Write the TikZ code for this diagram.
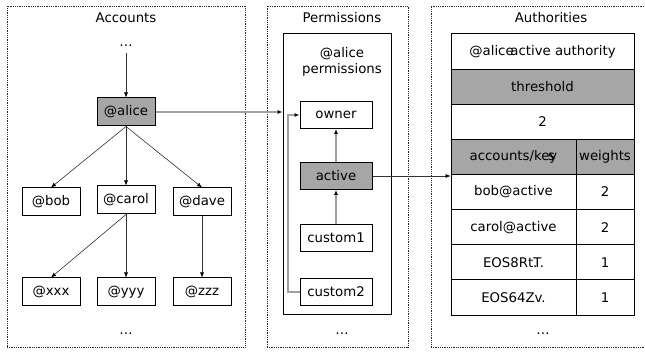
\documentclass[tikz,border=0pt]{standalone}
\usepackage{fontspec}
\setmainfont{DejaVu Sans}
\usetikzlibrary{arrows.meta}
\definecolor{boxgray}{RGB}{166,166,166}
\definecolor{linegray}{RGB}{160,160,160}
\begin{document}
\begin{tikzpicture}[x=1pt,y=-1pt,font=\fontsize{13.3}{15.5}\selectfont,
  frame/.style={draw=black!85,densely dotted,line width=0.8pt,inner sep=0pt},
  box/.style={draw,line width=1pt,minimum width=58pt,minimum height=28pt,inner sep=0pt,fill=white},
  pbox/.style={box,minimum width=72pt,minimum height=27pt},
  hl/.style={fill=boxgray},
  tip/.style={-{Latex[length=5pt,width=4pt,black]}},
  edge/.style={draw=black!80,line width=0.6pt,tip},
  gedge/.style={draw=linegray,line width=1.1pt,tip},
  cell/.style={draw,line width=1pt,minimum height=35.125pt,inner sep=0pt,fill=white},
  wide/.style={cell,minimum width=183pt},
  lcell/.style={cell,minimum width=125pt},
  rcell/.style={cell,minimum width=58pt}]
\useasboundingbox (0,0) rectangle (645,352);
\fill[white] (0,0) rectangle (645,352);
% frames
\node[frame,minimum width=238pt,minimum height=341pt] (accf) at (126,176.5) {};
\node[frame,minimum width=141pt,minimum height=341pt] (permf) at (337.5,176.5) {};
\node[frame,minimum width=224pt,minimum height=341pt] (authf) at (543,176.5) {};
% Accounts
\node (acct) at (126,18) {Accounts};
\node (accdots) at (126,46) {\dots};
\node[box,hl] (alice) at (126,112) {@alice};
\node[box] (bob) at (51,202) {@bob};
\node[box] (carol) at (126,200) {@carol};
\node[box] (dave) at (202,202) {@dave};
\node[box] (xxx) at (51,292) {@xxx};
\node[box] (yyy) at (126,292) {@yyy};
\node[box] (zzz) at (202,292) {@zzz};
\node (accdots2) at (126,334) {\dots};
\draw[edge] (accdots.south) ++(0,3) -- (alice.north);
\draw[edge] (alice.south) -- (bob.north);
\draw[edge] (alice.south) -- (carol.north);
\draw[edge] (alice.south) -- (dave.north);
\draw[edge] (carol.south) -- (xxx.north);
\draw[edge] (carol.south) -- (yyy.north);
\draw[edge] (dave.south) -- (zzz.north);
% Permissions
\node (permt) at (342,18) {Permissions};
\node[draw,line width=1pt,minimum width=108pt,minimum height=281pt,inner sep=0pt] (inner) at (337,174.5) {};
\node[align=center,inner sep=0pt] (ptitle) at (342,62) {@alice\\permissions};
\node[pbox] (owner) at (336,115) {owner};
\node[pbox,hl] (active) at (336,176) {active};
\node[pbox] (custom1) at (336,238) {custom1};
\node[pbox] (custom2) at (336,292) {custom2};
\node (permdots) at (342,334) {\dots};
\coordinate (c2a) at (288,292);
\coordinate (c2b) at (288,115);
\draw[gedge] (alice.east) -- (alice.east -| inner.west);
\draw[gedge] (custom1.north) -- (active.south);
\draw[gedge] (active.north) -- (owner.south);
\draw[gedge] (custom2.west) -- (c2a) -- (c2b) -- (owner.west);
% Authorities
\node (autht) at (551,18) {Authorities};
\node[wide] (r0) at (542.5,51.56) {@alice\kern-0.25em active authority};
\node[wide,hl] (r1) at (542.5,86.69) {threshold};
\node[wide] (r2) at (542.5,121.81) {2};
\node[lcell,hl] (h1) at (513.5,156.94) {accounts/ke\kern-0.1em\rlap{s}\kern0.1em y};
\node[rcell,hl] (h2) at (605,156.94) {weights};
\node[lcell] (a1) at (513.5,192.06) {bob@active};
\node[rcell] (w1) at (605,192.06) {2};
\node[lcell] (a2) at (513.5,227.19) {carol@active};
\node[rcell] (w2) at (605,227.19) {2};
\node[lcell] (a3) at (513.5,262.31) {EOS8Rt\rlap{.}T.};
\node[rcell] (w3) at (605,262.31) {1};
\node[lcell] (a4) at (513.5,297.44) {EOS64Zv.};
\node[rcell] (w4) at (605,297.44) {1};
\node (authdots) at (543,334) {\dots};
\draw[edge] (active.east) -- (active.east -| a1.west);
\end{tikzpicture}
\end{document}
